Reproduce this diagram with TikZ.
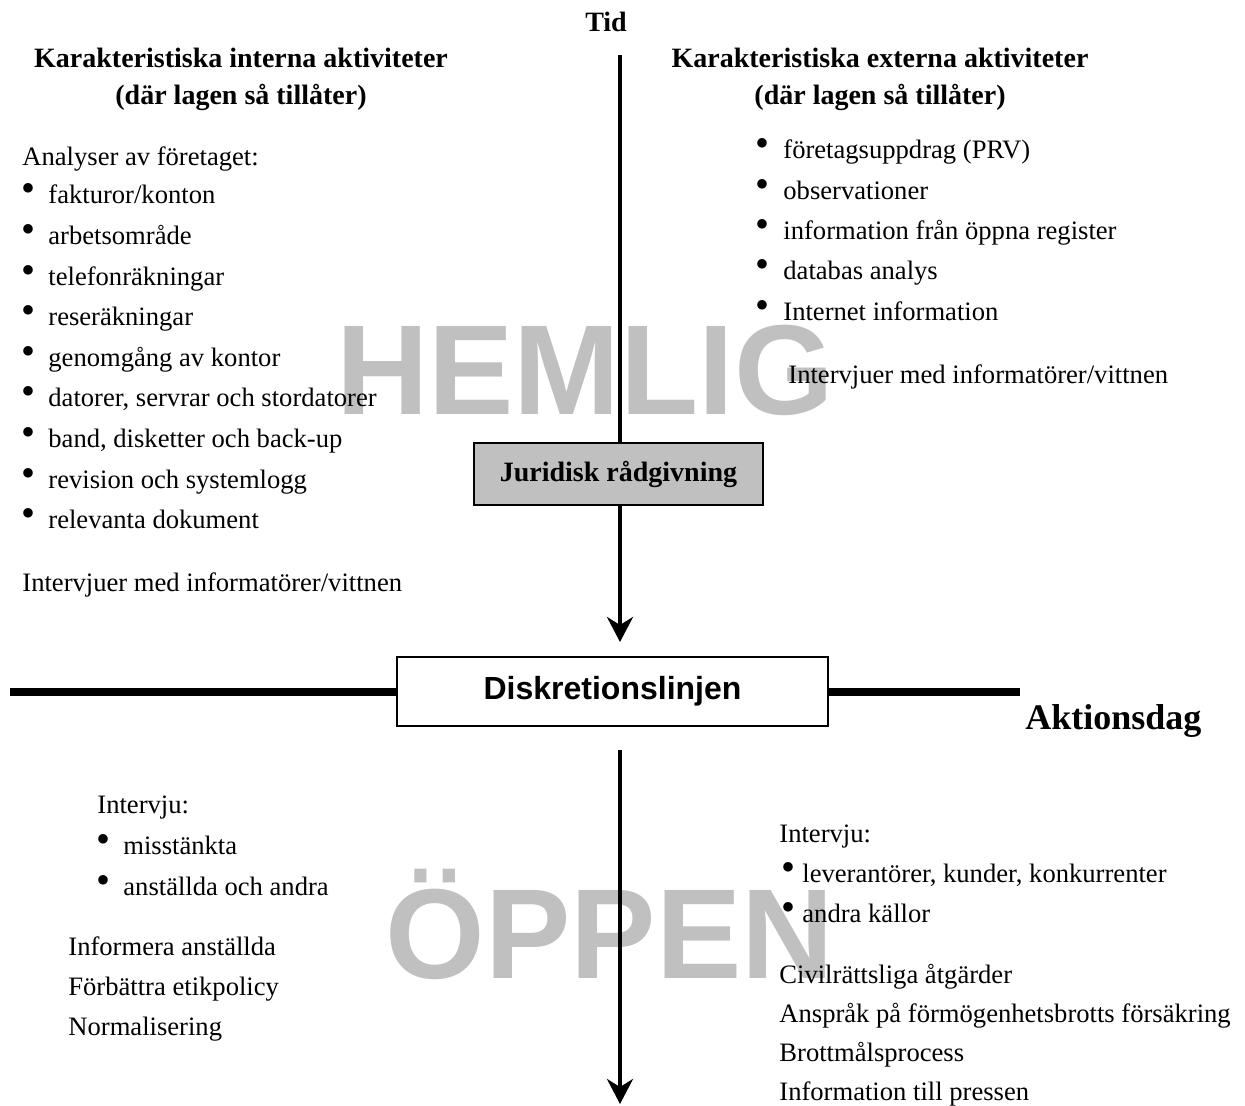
\documentclass[tikz,border=0pt]{standalone}
\usepackage{fontspec}
\usepackage{graphicx}
\setmainfont{Liberation Serif}
\newfontfamily\arialfont{Liberation Sans}
\usetikzlibrary{arrows.meta,positioning}

\definecolor{stampGray}{RGB}{192,192,192}
\definecolor{boxGray}{RGB}{192,192,192}
\newcommand{\bul}[1]{\llap{\raisebox{1pt}{\scalebox{1.5}{\textbullet}}\hspace{#1}}}

\begin{document}
\begin{tikzpicture}[x=0.5pt, y=-0.5pt,
      >={Stealth[length=12.5pt,width=13pt,inset=4pt]},
      bodyText/.style={anchor=base west, inner sep=0pt, font=\fontsize{13.3}{15}\selectfont},
      headText/.style={anchor=north, align=center, inner sep=0pt,
        font=\fontsize{14}{18.5}\selectfont\bfseries},
      bigWord/.style={anchor=base, inner sep=0pt, text=stampGray,
        font=\arialfont\fontsize{64}{64}\selectfont\bfseries},
      timeLine/.style={->, line width=2pt},
      bandLine/.style={line width=4pt},
      adviceBox/.style={draw, line width=1pt, fill=boxGray, inner sep=0pt,
        minimum width=144.5pt, minimum height=31pt,
        font=\fontsize{14}{16}\selectfont\bfseries},
      lineBox/.style={draw, line width=1pt, fill=white, inner sep=0pt,
        minimum width=215.5pt, minimum height=34.5pt,
        font=\arialfont\fontsize{16}{18}\selectfont\bfseries}
    ]
      \useasboundingbox (0,0) rectangle (1245,1106);

      % ---------- Stämplar ----------
      \node[bigWord] (hemlig) at (585,415) {HEMLIG};
      \node[bigWord] (oppen) at (610,978) {ÖPPEN};

      % ---------- Tidsaxel ----------
      \node[anchor=base, inner sep=0pt, font=\fontsize{14}{16}\selectfont\bfseries] (tid) at (606,32) {Tid};
      \coordinate (axisTop) at (620,55);
      \coordinate (axisMid) at (620,642);
      \coordinate (axisLow) at (620,750);
      \coordinate (axisEnd) at (620,1104);
      \draw[timeLine] (axisTop) -- (axisMid);
      \draw[timeLine] (axisLow) -- (axisEnd);

      \node[adviceBox] (jur) at (618.5,474) {Juridisk rådgivning};

      % ---------- Diskretionslinjen ----------
      \node[lineBox] (disk) at (612.5,691.5) {Diskretionslinjen};
      \coordinate (bandL) at (10,691.5);
      \coordinate (bandR) at (1020,691.5);
      \draw[bandLine] (bandL) -- (disk.west);
      \draw[bandLine] (disk.east) -- (bandR);
      \node[anchor=base west, inner sep=0pt, font=\fontsize{18}{20}\selectfont\bfseries] (aktion) at (1025,729) {Aktionsdag};

      % ---------- Rubriker ----------
      \node[headText] (intHead) at (241,48) {Karakteristiska interna aktiviteter\\(där lagen så tillåter)};
      \node[headText] (extHead) at (880,48) {Karakteristiska externa aktiviteter\\(där lagen så tillåter)};

      % ---------- Interna aktiviteter ----------
      \node[bodyText] (intIntro) at (22,166) {Analyser av företaget:};
      \foreach \txt [count=\i from 0] in {fakturor/konton, arbetsområde, telefonräkningar,
          reseräkningar, genomgång av kontor, {datorer, servrar och stordatorer},
          {band, disketter och back-up}, revision och systemlogg, relevanta dokument}
        \node[bodyText] (int\i) at (48,204+40.6*\i) {\bul{6.5pt}\txt};
      \node[bodyText] (intVitt) at (22,591) {Intervjuer med informatörer/vittnen};

      % ---------- Externa aktiviteter ----------
      \foreach \txt [count=\i from 0] in {företagsuppdrag (PRV), observationer,
          information från öppna register, databas analys, Internet information}
        \node[bodyText] (ext\i) at (783,159+40.3*\i) {\bul{7pt}\txt};
      \node[bodyText] (extVitt) at (788,384) {Intervjuer med informatörer/vittnen};

      % ---------- Öppen fas: vänster ----------
      \node[bodyText] (openLIntro) at (97,813) {Intervju:};
      \node[bodyText] (openL0) at (123,854) {\bul{6.5pt}misstänkta};
      \node[bodyText] (openL1) at (123,895) {\bul{6.5pt}anställda och andra};
      \foreach \txt [count=\i from 0] in {Informera anställda, Förbättra etikpolicy, Normalisering}
        \node[bodyText] (openLact\i) at (68,955+40*\i) {\txt};

      % ---------- Öppen fas: höger ----------
      \node[bodyText] (openRIntro) at (779,842) {Intervju:};
      \node[bodyText] (openR0) at (802,882) {\bul{3.5pt}leverantörer, kunder, konkurrenter};
      \node[bodyText] (openR1) at (802,922) {\bul{3.5pt}andra källor};
      \foreach \txt [count=\i from 0] in {Civilrättsliga åtgärder, Anspråk på förmögenhetsbrotts försäkring,
          Brottmålsprocess, Information till pressen}
        \node[bodyText] (openRact\i) at (779,983+39.2*\i) {\txt};

    \end{tikzpicture}
\end{document}
